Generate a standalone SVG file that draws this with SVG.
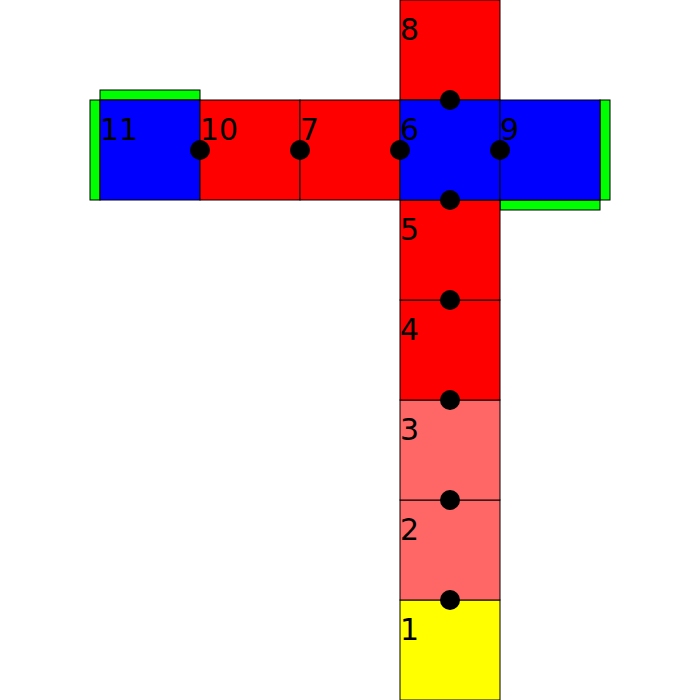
<svg xmlns="http://www.w3.org/2000/svg" width="700" height="700" viewBox="0 0 700 700">
<style>
rect{stroke:#000;stroke-width:1}
.r{fill:#ff0000}.b{fill:#0000ff}.l{fill:#ff6666}.y{fill:#ffff00}.g{fill:#00ff00}
text{font-family:"DejaVu Sans",sans-serif;font-size:30px;fill:#000}
.d{fill:#000}
</style>
<rect width="700" height="700" fill="#fff" style="stroke:none"/>
<g id="bars">
<rect class="g" x="90" y="100" width="10" height="100"/>
<rect class="g" x="100" y="90" width="100" height="10"/>
<rect class="g" x="600" y="100" width="10" height="100"/>
<rect class="g" x="500" y="200" width="100" height="10"/>
</g>
<g id="n1"><rect class="y" x="400" y="600" width="100" height="100"/><text x="400" y="640">1</text></g>
<g id="n2"><rect class="l" x="400" y="500" width="100" height="100"/><text x="400" y="540">2</text></g>
<g id="n3"><rect class="l" x="400" y="400" width="100" height="100"/><text x="400" y="440">3</text></g>
<g id="n4"><rect class="r" x="400" y="300" width="100" height="100"/><text x="400" y="340">4</text></g>
<g id="n5"><rect class="r" x="400" y="200" width="100" height="100"/><text x="400" y="240">5</text></g>
<g id="n8"><rect class="r" x="400" y="0" width="100" height="100"/><text x="400" y="40">8</text></g>
<g id="n11"><rect class="b" x="100" y="100" width="100" height="100"/><text x="100" y="140">11</text></g>
<g id="n10"><rect class="r" x="200" y="100" width="100" height="100"/><text x="200" y="140">10</text></g>
<g id="n7"><rect class="r" x="300" y="100" width="100" height="100"/><text x="300" y="140">7</text></g>
<g id="n6"><rect class="b" x="400" y="100" width="100" height="100"/><text x="400" y="140">6</text></g>
<g id="n9"><rect class="b" x="500" y="100" width="100" height="100"/><text x="500" y="140">9</text></g>
<g id="connectors">
<circle class="d" cx="450" cy="100" r="10"/>
<circle class="d" cx="200" cy="150" r="10"/>
<circle class="d" cx="300" cy="150" r="10"/>
<circle class="d" cx="400" cy="150" r="10"/>
<circle class="d" cx="500" cy="150" r="10"/>
<circle class="d" cx="450" cy="200" r="10"/>
<circle class="d" cx="450" cy="300" r="10"/>
<circle class="d" cx="450" cy="400" r="10"/>
<circle class="d" cx="450" cy="500" r="10"/>
<circle class="d" cx="450" cy="600" r="10"/>
</g>
</svg>
